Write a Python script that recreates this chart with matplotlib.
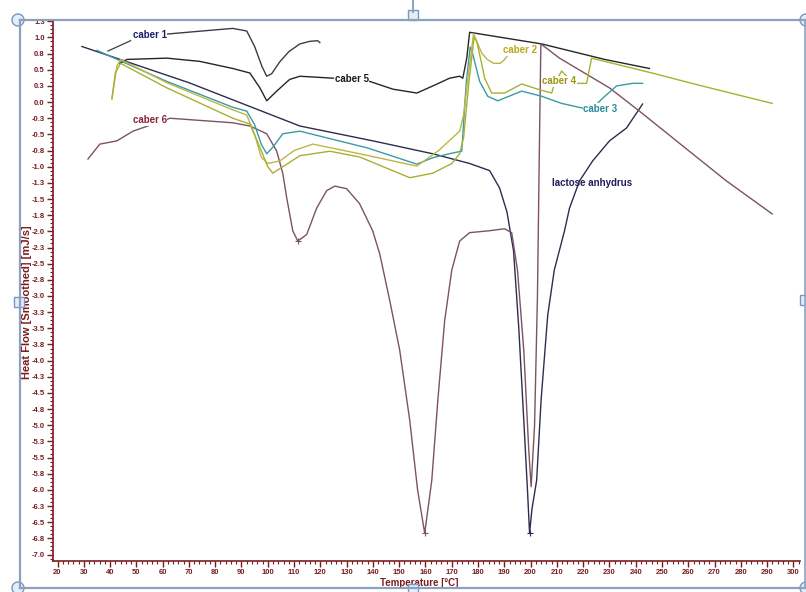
import math
import matplotlib
matplotlib.use("Agg")
import matplotlib.pyplot as plt
import matplotlib.patches as patches
from matplotlib.ticker import MultipleLocator, AutoMinorLocator, FuncFormatter

plt.rcParams['font.family'] = ['Liberation Sans', 'DejaVu Sans']

# DSC traces: temperature [C] and smoothed heat flow [mJ/s]
caber1_T = [61.0, 75.0, 86.7, 92.0, 95.0, 97.8, 99.6, 101.5, 104.5, 108.0, 112.2, 116.0, 119.0, 119.8]
caber1_hf = [1.05, 1.10, 1.14, 1.10, 0.86, 0.55, 0.40, 0.44, 0.62, 0.78, 0.90, 0.94, 0.95, 0.92]

caber5_T = [43.7, 46.4, 61.6, 74.1, 86.7, 93.2, 97.0, 99.6, 103.4, 108.3, 112.2, 124.8, 138.8,
            147.6, 156.7, 162.8, 169.2, 173.0, 174.2, 175.7, 176.8, 204.2, 228.2, 245.2]
caber5_hf = [0.60, 0.66, 0.68, 0.63, 0.52, 0.45, 0.22, 0.02, 0.17, 0.35, 0.40, 0.37, 0.32,
             0.20, 0.14, 0.25, 0.37, 0.40, 0.37, 0.68, 1.08, 0.90, 0.66, 0.52]

lactose_T = [29.3, 70.0, 112.2, 140.0, 162.8, 176.8, 184.4, 188.2, 191.0, 193.5, 195.5, 197.5,
             198.8, 199.6, 200.5, 202.3, 204.0, 206.5, 209.0, 212.9, 214.8, 218.6, 223.6,
             230.0, 236.5, 242.6]
lactose_hf = [0.86, 0.30, -0.37, -0.60, -0.80, -0.95, -1.06, -1.33, -1.70, -2.30, -3.50, -5.00,
              -6.00, -6.67, -6.30, -5.85, -4.60, -3.30, -2.60, -1.99, -1.64, -1.22, -0.91,
              -0.60, -0.40, -0.03]

caber6_T = [31.6, 36.1, 42.6, 48.7, 62.8, 86.7, 93.2, 99.6, 103.4, 105.7, 107.2, 109.5, 111.4,
            114.8, 118.6, 122.4, 125.5, 130.0, 134.9, 139.9, 142.6, 146.4, 150.2, 154.0, 157.0,
            159.7, 162.4, 164.7, 167.3, 170.0, 173.0, 176.8, 184.4, 190.1, 192.8, 195.0, 197.4,
            199.3, 200.2, 201.5, 202.6, 203.4, 203.9, 211.0, 230.0, 241.4, 261.6, 274.5, 291.9]
caber6_hf = [-0.88, -0.65, -0.60, -0.45, -0.25, -0.32, -0.37, -0.49, -0.76, -1.10, -1.48, -1.99,
             -2.15, -2.05, -1.64, -1.37, -1.30, -1.34, -1.57, -1.99, -2.35, -3.07, -3.84, -4.92,
             -6.00, -6.67, -5.85, -4.61, -3.38, -2.60, -2.15, -2.02, -1.99, -1.96, -2.02, -2.60,
             -3.84, -5.39, -5.95, -5.00, -3.00, -0.50, 0.90, 0.68, 0.22, -0.14, -0.80, -1.22, -1.73]

caber3_T = [35.0, 61.6, 86.7, 92.0, 95.0, 97.5, 99.6, 101.9, 105.7, 112.2, 138.0, 156.7, 162.8,
            170.0, 173.8, 175.5, 177.0, 178.0, 180.6, 183.7, 187.5, 196.6, 204.2, 211.8, 219.4,
            223.5, 227.4, 232.7, 238.8, 242.6]
caber3_hf = [0.80, 0.32, -0.08, -0.14, -0.35, -0.65, -0.80, -0.70, -0.49, -0.45, -0.71, -0.96,
             -0.86, -0.79, -0.76, 0.30, 0.85, 0.74, 0.32, 0.09, 0.02, 0.17, 0.09, -0.02, -0.09,
             -0.10, 0.06, 0.25, 0.29, 0.29]

caber2_T = [40.7, 42.6, 44.0, 61.6, 86.7, 92.0, 95.0, 97.5, 100.0, 104.6, 110.0, 117.1, 135.0,
            156.7, 165.0, 173.0, 174.5, 176.5, 178.3, 179.5, 181.4, 183.5, 185.9, 188.5, 190.1]
caber2_hf = [0.05, 0.56, 0.66, 0.30, -0.12, -0.20, -0.50, -0.85, -0.95, -0.91, -0.75, -0.65,
             -0.80, -0.99, -0.75, -0.45, -0.20, 0.50, 1.06, 0.94, 0.76, 0.66, 0.60, 0.60, 0.66]

caber4_T = [40.7, 42.0, 44.0, 61.6, 86.7, 93.2, 97.0, 100.0, 101.9, 105.7, 112.2, 123.6, 135.0,
            154.0, 162.8, 170.0, 173.0, 174.5, 176.5, 178.5, 179.5, 181.4, 182.5, 185.2, 190.1,
            196.6, 202.7, 208.0, 209.1, 211.8, 213.7, 217.5, 221.3, 223.2, 245.2, 264.2, 291.9]
caber4_hf = [0.05, 0.45, 0.60, 0.22, -0.25, -0.34, -0.70, -1.00, -1.10, -1.00, -0.83, -0.76,
             -0.85, -1.17, -1.10, -0.95, -0.80, -0.55, 0.30, 1.00, 0.94, 0.59, 0.37, 0.14, 0.14,
             0.28, 0.20, 0.14, 0.29, 0.48, 0.40, 0.29, 0.29, 0.68, 0.46, 0.26, -0.02]

# peak minima marked by the analysis software
minima_T = [111.4, 159.7, 199.6]
minima_hf = [-2.15, -6.67, -6.67]

axis_red = '#7a1c20'
frame_blue = '#8aa2c0'

fig = plt.figure(figsize=(8.06, 5.92), dpi=100)
fig.patch.set_facecolor('white')
ax = fig.add_axes([0.0658, 0.0524, 0.9268, 0.9138])

ax.plot(lactose_T, lactose_hf, color='#2e2c50', lw=1.0)
ax.plot(caber1_T, caber1_hf, color='#3c3c46', lw=1.0)
ax.plot(caber5_T, caber5_hf, color='#262626', lw=1.0)
ax.plot(caber6_T, caber6_hf, color='#7d5262', lw=1.0)
ax.plot(caber3_T, caber3_hf, color='#3a9aa8', lw=1.0)
ax.plot(caber2_T, caber2_hf, color='#bdb646', lw=1.0)
ax.plot(caber4_T, caber4_hf, color='#a8b032', lw=1.0)
ax.plot(minima_T[0], minima_hf[0], '+', color='#7d5262', ms=5, mew=0.8)
ax.plot(minima_T[1], minima_hf[1], '+', color='#7d5262', ms=5, mew=0.8)
ax.plot(minima_T[2], minima_hf[2], '+', color='#2e2c50', ms=5, mew=0.8)

# curve labels with leader lines
lbl = dict(fontsize=7, fontweight='bold', ha='center', va='center',
           bbox=dict(facecolor='white', edgecolor='none', pad=0.3))
ax.plot([39.2, 47.8], [0.79, 0.95], color='#3c3c46', lw=0.9)
ax.text(55.1, 1.04, 'caber 1', color='#1e1e6a', **lbl)
ax.text(132.0, 0.36, 'caber 5', color='#1a1a1a', **lbl)
ax.text(55.1, -0.28, 'caber 6', color='#8a2438', **lbl)
ax.plot([190.1, 192.0], [0.66, 0.76], color='#bdb646', lw=0.9)
ax.text(196.0, 0.80, 'caber 2', color='#b8a81e', **lbl)
ax.text(211.0, 0.32, 'caber 4', color='#9a9812', **lbl)
ax.text(226.5, -0.10, 'caber 3', color='#2a8a9a', **lbl)
ax.text(208.3, -1.25, 'lactose anhydrus', color='#1e1e5a', fontsize=7, fontweight='bold',
        ha='left', va='center')

ax.set_xlim(18.3, 302.5)
ax.set_ylim(-7.1, 1.27)
ax.xaxis.set_major_locator(MultipleLocator(10))
ax.xaxis.set_minor_locator(AutoMinorLocator(5))
ax.yaxis.set_major_locator(MultipleLocator(0.25))
ax.yaxis.set_minor_locator(AutoMinorLocator(4))


def one_decimal(v, pos):
    r = math.floor(abs(v) * 10 + 0.5) / 10
    if r == 0:
        return '0.0'
    return f"{-r if v < 0 else r:.1f}"


ax.yaxis.set_major_formatter(FuncFormatter(one_decimal))
ax.xaxis.set_major_formatter(FuncFormatter(lambda v, pos: f"{v:.0f}"))
for side in ['top', 'right']:
    ax.spines[side].set_visible(False)
for side in ['left', 'bottom']:
    ax.spines[side].set_color(axis_red)
    ax.spines[side].set_linewidth(1.2)
ax.tick_params(which='major', colors=axis_red, length=4, width=1.0, labelsize=5.5, pad=2)
ax.tick_params(which='minor', colors=axis_red, length=2, width=0.8)
for t in ax.get_xticklabels() + ax.get_yticklabels():
    t.set_fontweight('bold')

fig.text(0.034, 0.49, 'Heat Flow [Smoothed] [mJ/s]', rotation=90, color=axis_red,
         fontsize=8, fontweight='bold', ha='center', va='center')
fig.text(0.52, 0.0145, 'Temperature [\u00b0C]', color=axis_red, fontsize=7,
         fontweight='bold', ha='center', va='center')

# selection frame drawn around the chart
over = fig.add_axes([0, 0, 1, 1], zorder=10)
over.set_xlim(0, 806)
over.set_ylim(592, 0)
over.axis('off')
over.patch.set_alpha(0)
over.plot([20, 806], [20, 20], color=frame_blue, lw=1.6)
over.plot([20, 20], [20, 588], color=frame_blue, lw=1.6)
over.plot([20, 806], [588, 588], color=frame_blue, lw=1.6)
over.plot([805, 805], [20, 588], color=frame_blue, lw=1.2)
over.plot([413, 413], [0, 12], color=frame_blue, lw=1.4)
for cx, cy in [(18, 20), (806, 20), (18, 588), (806, 588)]:
    over.add_patch(patches.Circle((cx, cy), 6, facecolor='#e4eef8', edgecolor='#7a98bc', lw=1.0))
for sx, sy in [(413, 15), (19, 302), (413, 589), (805, 300)]:
    over.add_patch(patches.Rectangle((sx - 5, sy - 5), 10, 10, facecolor='#e4eef8',
                                     edgecolor='#7a98bc', lw=1.0))

fig.savefig('out.png', dpi=100)
